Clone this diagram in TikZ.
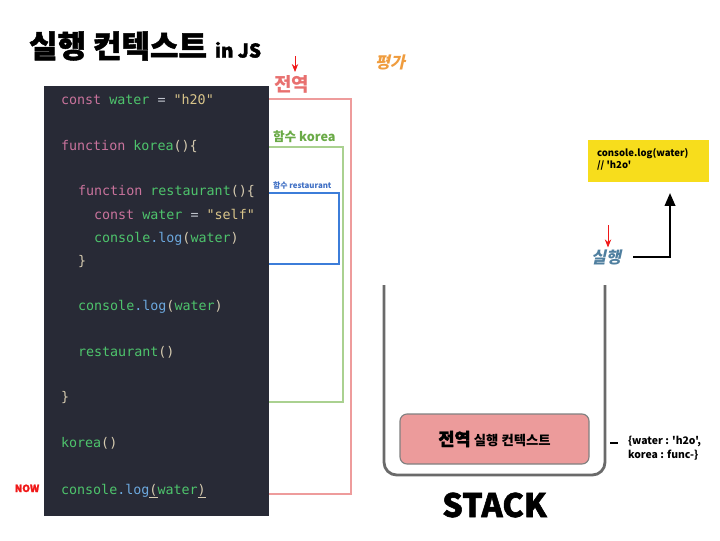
\documentclass[tikz,border=0pt]{standalone}
\usepackage{fontspec}
\usepackage{xcolor}
\usetikzlibrary{arrows.meta,positioning}
\newfontfamily\krfont{Noto Sans CJK KR}
\newfontfamily\krheavy{Noto Sans CJK KR}[BoldFeatures={FakeBold=1.6}]
\newfontfamily\krslant{Noto Sans CJK KR}[FakeSlant=0.22]
\newfontfamily\codefont{DejaVu Sans Mono}
\definecolor{panelbg}{HTML}{282A36}
\definecolor{codekw}{HTML}{C9739C}
\definecolor{codename}{HTML}{4EC46C}
\definecolor{codestr}{HTML}{D8C48A}
\definecolor{codepunct}{HTML}{D6CBB0}
\definecolor{codeop}{HTML}{BFC3CC}
\definecolor{codelog}{HTML}{6CA8DE}
\definecolor{globalline}{HTML}{EE9C9C}
\definecolor{globaltext}{HTML}{E8706F}
\definecolor{korealine}{HTML}{AAD190}
\definecolor{koreatext}{HTML}{6AAA47}
\definecolor{restline}{HTML}{3C7DD9}
\definecolor{resttext}{HTML}{3F6FC4}
\definecolor{evaltext}{HTML}{EF9C3E}
\definecolor{runtext}{HTML}{4F7F9F}
\definecolor{stackline}{HTML}{6A6A6A}
\definecolor{ctxfill}{HTML}{EC9B9B}
\definecolor{resultfill}{HTML}{F7DD1C}
\definecolor{nowred}{HTML}{F01818}
\newcommand{\ckw}[1]{\textcolor{codekw}{#1}}
\newcommand{\cnm}[1]{\textcolor{codename}{#1}}
\newcommand{\cstr}[1]{\textcolor{codestr}{#1}}
\newcommand{\cpu}[1]{\textcolor{codepunct}{#1}}
\newcommand{\cop}[1]{\textcolor{codeop}{#1}}
\newcommand{\clog}[1]{\textcolor{codelog}{#1}}
\newcommand{\fsz}[1]{\fontsize{#1}{1.2\dimexpr#1\relax}\selectfont}
\tikzset{
  txt/.style={
    inner sep=0pt,
    outer sep=0pt,
  },
  code/.style={
    txt,
    anchor=base west,
    font=\codefont\fsz{9.5pt},
  },
  scope frame/.style={
    line width=1.4pt,
  },
  scope label/.style={
    txt,
    anchor=base west,
    font=\krfont\bfseries,
  },
  marker/.style={
    -{Stealth[length=2mm,width=1.6mm]},
    draw=nowred,
    line width=0.6pt,
  },
  stack wall/.style={
    draw=stackline,
    line width=2pt,
    rounded corners=9pt,
  },
  context/.style={
    txt,
    rounded corners=5pt,
    minimum width=189*0.025cm,
    minimum height=50*0.025cm,
    draw=stackline!85,
    fill=ctxfill,
    line width=0.8pt,
  },
  result/.style={
    txt,
    anchor=north west,
    minimum width=121*0.025cm,
    minimum height=42*0.025cm,
    fill=resultfill,
  },
  result arrow/.style={
    -{Triangle[length=3.2mm,width=2.6mm]},
    line width=1.5pt,
  },
}
\begin{document}
\begin{tikzpicture}[x=0.025cm, y=-0.025cm]
  \useasboundingbox (0,0) rectangle (720,540);

  % title
  \node[txt, font=\krheavy\bfseries\fsz{22pt}] (title) at (118,46) {실행 컨텍스트};
  \node[txt, anchor=base west, font=\krheavy\bfseries\fsz{13.5pt}] (injs)
    at ([xshift=8*0.025cm]title.base east) {in JS};

  % scope frames (behind the code panel)
  \draw[scope frame, draw=globalline] (250,99) -| (351,494) -- (250,494);
  \draw[scope frame, draw=korealine] (250,147) -| (343,402) -- (250,402);
  \draw[scope frame, draw=restline] (250,193) -| (339,264) -- (250,264);

  \node[scope label, text=globaltext, font=\krfont\bfseries\fsz{13.5pt}] (global) at (274,91) {전역};
  \node[scope label, text=koreatext, font=\krfont\bfseries\fsz{9pt}] (korea) at (273,141) {함수 korea};
  \node[scope label, text=resttext, font=\krfont\bfseries\fsz{5.6pt}] (rest) at (273,188) {함수 restaurant};
  \coordinate (globaltop) at (295,56);
  \draw[marker] (globaltop) -- ([yshift=3*0.025cm]global.north -| globaltop);

  % code panel
  \node[txt, anchor=north west, minimum width=225*0.025cm, minimum height=430*0.025cm,
    fill=panelbg] (panel) at (44,86) {};
  \node[code] (l1) at (61,104) {\ckw{const} \cnm{water} \cop{=} \cstr{"h20"}};
  \node[code] (l2) at (61,150) {\ckw{function} \cnm{korea}\cpu{()\{}};
  \node[code] (l3) at (78,195) {\ckw{function} \cnm{restaurant}\cpu{()\{}};
  \node[code] (l4) at (94,219) {\ckw{const} \cnm{water} \cop{=} \cstr{"self"}};
  \node[code] (l5) at (94,242) {\cnm{console}\clog{.log}\cpu{(}\cnm{water}\cpu{)}};
  \node[code] (l6) at (78,265) {\cpu{\}}};
  \node[code] (l7) at (78,310) {\cnm{console}\clog{.log}\cpu{(}\cnm{water}\cpu{)}};
  \node[code] (l8) at (78,356) {\cnm{restaurant}\cpu{()}};
  \node[code] (l9) at (61,401) {\cpu{\}}};
  \node[code] (l10) at (61,447) {\cnm{korea}\cpu{()}};
  \node[code] (l11) at (61,494) {\cnm{console}\clog{.log}\cpu{\underline{(}}\cnm{water}\cpu{\underline{)}}};
  \node[txt, text=nowred, font=\krheavy\bfseries\fsz{7pt}, anchor=base] (now) at (27,492) {NOW};

  % evaluation / execution
  \node[txt, text=evaltext, font=\krslant\bfseries\fsz{11.5pt}] (eval) at (390,62) {평가};
  \node[txt, text=runtext, font=\krslant\bfseries\fsz{11.5pt}] (run) at (606,257) {실행};
  \coordinate (runtop) at (608,225);
  \draw[marker] (runtop) -- ([yshift=2*0.025cm]run.north -| runtop);

  % stack
  \draw[stack wall] (384,285) -- (384,475) -- (605,475) -- (605,285);
  \node[context] (ctx) at (494.5,439) {\krfont\bfseries{\krheavy\bfseries\fsz{12.5pt}전역} {\fsz{9.5pt}실행 컨텍스트}};
  \node[txt, font=\krheavy\bfseries\fsz{23pt}] (stack) at (494.5,505) {STACK};
  \coordinate (dashstart) at (610,443);
  \draw[line width=0.8pt] (dashstart) -- ++(8,0);
  \node[txt, anchor=north west, align=left, font=\krfont\bfseries\fsz{7.4pt}] (env)
    at (628,436) {\{water : 'h2o',\\[1pt]korea : func-\}};

  % result
  \node[result] (res) at (588,140) {};
  \node[txt, anchor=north west, align=left, font=\krfont\bfseries\fsz{6.8pt}] (restext)
    at (597,148) {console.log(water)\\[1pt]// 'h2o'};
  \coordinate (runout) at (633,257);
  \coordinate (turn) at (670,257);
  \coordinate (tip) at (670,193);
  \draw[result arrow] (runout) -- (turn) -- (tip);
\end{tikzpicture}
\end{document}
